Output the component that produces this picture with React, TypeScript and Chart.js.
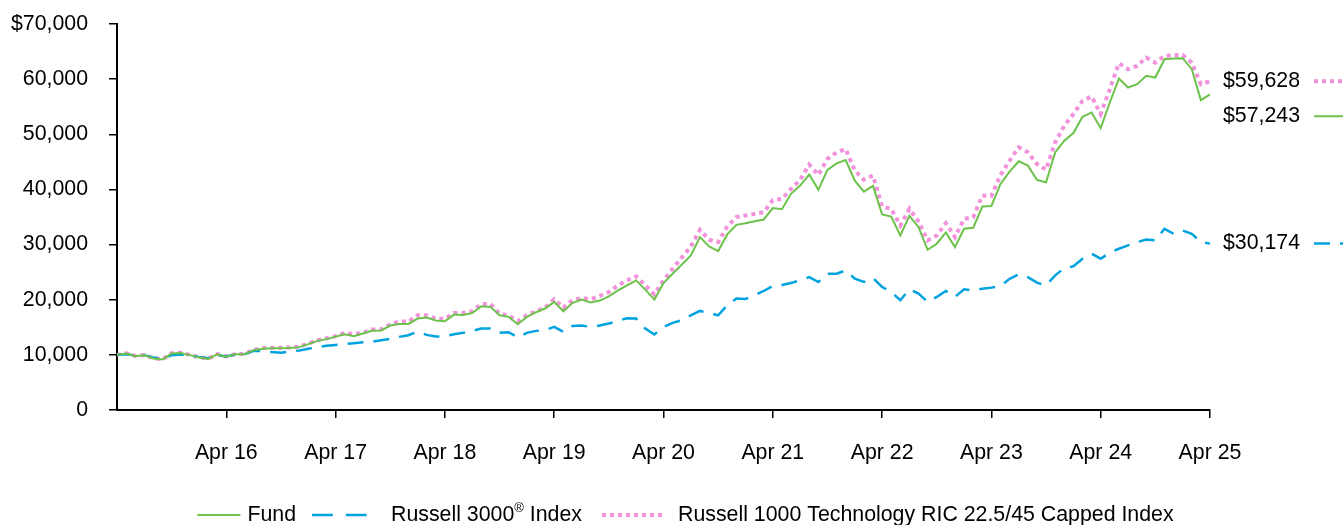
import React, { useEffect, useRef } from "react";
import { Chart, registerables } from "chart.js";

Chart.register(...registerables);

const FONT = '"Liberation Sans", Arial, sans-serif';
const FS = 21.33;

const SERIES_NAMES = ["Fund", "Russell 3000® Index", "Russell 1000 Technology RIC 22.5/45 Capped Index"];
const END_LABELS = ["$57,243", "$30,174", "$59,628"];
const TICK_LABELS = ["Apr 16", "Apr 17", "Apr 18", "Apr 19", "Apr 20", "Apr 21", "Apr 22", "Apr 23", "Apr 24", "Apr 25"];
const MONTHS = ["Jan", "Feb", "Mar", "Apr", "May", "Jun", "Jul", "Aug", "Sep", "Oct", "Nov", "Dec"];
const START_YEAR = 2015;
const START_MONTH = 3; // April
const N_POINTS = 121;

const FUND = [
  10000, 10250, 9770, 9950, 9350, 9170, 10250, 10350, 9950, 9550, 9250, 10100,
  9650, 10100, 10100, 10850, 11100, 11200, 11200, 11250, 11400, 11940, 12540, 12850,
  13300, 13750, 13400, 13870, 14350, 14400, 15320, 15600, 15600, 16580, 16770, 16230,
  16100, 17300, 17250, 17600, 18810, 18700, 17180, 16890, 15560, 16890, 17730, 18400,
  19600, 17900, 19400, 20020, 19480, 19840, 20620, 21700, 22600, 23500, 21830, 20020,
  23030, 24720, 26350, 28040, 31350, 29660, 28820, 31840, 33580, 33880, 34240, 34550,
  36630, 36420, 39200, 40700, 42690, 39920, 43540, 44730, 45340, 41600, 39610, 40640,
  35450, 35090, 31650, 35210, 33160, 29060, 30150, 32200, 29540, 32860, 33040, 36900,
  37000, 41000, 43230, 45100, 44320, 41730, 41300, 46720, 48840, 50230, 53180, 53960,
  51130, 55770, 60110, 58480, 59090, 60600, 60290, 63620, 63740, 63800, 61810, 56200,
  57243,
];

const RUSSELL_3000 = [
  10000, 10100, 9900, 9950, 9500, 9300, 9950, 10050, 9950, 9600, 9400, 9900,
  9750, 10050, 10100, 10750, 10650, 10500, 10400, 10600, 10800, 11100, 11400, 11650,
  11800, 11940, 12120, 12300, 12360, 12660, 12900, 13260, 13560, 14230, 13620, 13320,
  13380, 13740, 13990, 14350, 14770, 14770, 13990, 14110, 13150, 13990, 14350, 14470,
  15070, 14170, 15250, 15310, 15070, 15310, 15680, 16160, 16640, 16580, 14770, 13690,
  15070, 15800, 16280, 17180, 17970, 17610, 17180, 18990, 20200, 20140, 20800, 21580,
  22500, 22670, 23030, 23510, 24110, 23210, 24720, 24720, 25320, 23820, 23210, 23940,
  22310, 21400, 19900, 21890, 21100, 19600, 20500, 21580, 20500, 21890, 21700, 22000,
  22190, 22500, 23800, 24600, 24100, 23100, 22600, 24420, 25740, 26070, 27440, 28340,
  27440, 28520, 29240, 29850, 30450, 30930, 30750, 32860, 31960, 32560, 31960, 30450,
  30174,
];

const TECH_INDEX = [
  10000, 10300, 9800, 9980, 9380, 9200, 10300, 10400, 9980, 9600, 9300, 10150,
  9700, 10150, 10150, 10900, 11200, 11300, 11300, 11350, 11500, 12050, 12650, 13000,
  13400, 13990, 13750, 13990, 14590, 14650, 15500, 16040, 16040, 17180, 17180, 16580,
  16520, 17600, 17600, 17910, 19230, 19230, 17490, 17130, 16100, 17180, 17910, 18570,
  20100, 18570, 19900, 20320, 20080, 20680, 21400, 22610, 23510, 24240, 22610, 20980,
  23510, 25630, 27620, 29660, 32680, 30870, 30450, 33280, 34970, 35270, 35570, 35870,
  38050, 38290, 40100, 41730, 44500, 42630, 45520, 46720, 47330, 43410, 41780, 42510,
  36900, 36480, 33460, 36480, 34190, 30750, 31650, 33880, 31350, 34670, 34970, 38890,
  38830, 42630, 45220, 47630, 46720, 44620, 43590, 48530, 51550, 53670, 56070, 56850,
  53670, 58190, 62890, 61810, 62400, 63910, 63000, 64210, 64330, 64390, 63000, 59090,
  59628,
];

const COLORS = ["#6cc24a", "#00a3e0", "#f291dc"];

const CATEGORIES: string[] = [];
for (let i = 0; i < N_POINTS; i++) {
  const m = (START_MONTH + i) % 12;
  const y = START_YEAR + Math.floor((START_MONTH + i) / 12);
  CATEGORIES.push(MONTHS[m] + " " + String(y).slice(2));
}

const endLabelPlugin = {
  id: "endLabels",
  afterDatasetsDraw(chart: any) {
    const { ctx, chartArea } = chart;
    const items = chart.data.datasets.map((ds: any, i: number) => {
      const meta = chart.getDatasetMeta(i);
      const pt = meta.data[meta.data.length - 1];
      return { y: pt.y, ds, label: END_LABELS[i] };
    });
    items.sort((a: any, b: any) => a.y - b.y);
    for (let k = 1; k < items.length; k++) {
      if (items[k].y - items[k - 1].y < 35) items[k].y = items[k - 1].y + 35;
    }
    ctx.save();
    ctx.font = FS + "px " + FONT;
    ctx.fillStyle = "#000";
    ctx.textBaseline = "middle";
    ctx.textAlign = "left";
    items.forEach((it: any) => {
      ctx.fillText(it.label, chartArea.right + 13, it.y);
      ctx.beginPath();
      ctx.strokeStyle = it.ds.borderColor;
      ctx.lineWidth = it.ds.borderWidth;
      ctx.setLineDash(it.ds.borderDash || []);
      ctx.moveTo(chartArea.right + 104, it.y);
      ctx.lineTo(chartArea.right + 140, it.y);
      ctx.stroke();
    });
    ctx.restore();
  },
};

// legend layout: sample length, gap sample->text, gap after text
const LEGEND_SAMPLE = [43, 57, 60];
const LEGEND_TEXT_GAP = [7, 22, 16];
const LEGEND_ITEM_GAP = [16, 20, 0];

const legendPlugin = {
  id: "customLegend",
  afterDraw(chart: any) {
    const { ctx, chartArea } = chart;
    const y = 515;
    ctx.save();
    const mainFont = FS + "px " + FONT;
    const supFont = "13px " + FONT;
    ctx.font = mainFont;
    const textWidth = (i: number) => {
      if (i === 1) {
        ctx.font = mainFont;
        const a = ctx.measureText("Russell 3000").width;
        const c = ctx.measureText(" Index").width;
        ctx.font = supFont;
        const b = ctx.measureText("®").width;
        ctx.font = mainFont;
        return a + b + c;
      }
      ctx.font = mainFont;
      return ctx.measureText(SERIES_NAMES[i]).width;
    };
    const widths = SERIES_NAMES.map((_, i) => textWidth(i));
    let total = 0;
    widths.forEach((w, i) => (total += LEGEND_SAMPLE[i] + LEGEND_TEXT_GAP[i] + w + LEGEND_ITEM_GAP[i]));
    let x = (chartArea.left + chartArea.right) / 2 + 22 - total / 2;
    chart.data.datasets.forEach((ds: any, i: number) => {
      ctx.beginPath();
      ctx.strokeStyle = ds.borderColor;
      ctx.lineWidth = ds.borderWidth;
      ctx.setLineDash(ds.borderDash ? ds.borderDash.map((d: number) => (i === 1 ? d * 1.3 : d)) : []);
      ctx.moveTo(x, y);
      ctx.lineTo(x + LEGEND_SAMPLE[i], y);
      ctx.stroke();
      ctx.setLineDash([]);
      x += LEGEND_SAMPLE[i] + LEGEND_TEXT_GAP[i];
      ctx.fillStyle = "#000";
      ctx.textBaseline = "middle";
      ctx.textAlign = "left";
      ctx.font = mainFont;
      if (i === 1) {
        ctx.fillText("Russell 3000", x, y);
        let xx = x + ctx.measureText("Russell 3000").width;
        ctx.font = supFont;
        ctx.fillText("®", xx, y - 7);
        xx += ctx.measureText("®").width;
        ctx.font = mainFont;
        ctx.fillText(" Index", xx, y);
      } else {
        ctx.fillText(SERIES_NAMES[i], x, y);
      }
      x += widths[i] + LEGEND_ITEM_GAP[i];
    });
    ctx.restore();
  },
};

export default function App() {
  const ref = useRef<HTMLCanvasElement>(null);
  useEffect(() => {
    document.body.style.margin = "0";
    const canvas = ref.current!;
    const chart = new Chart(canvas, {
      type: "line",
      data: {
        labels: CATEGORIES,
        datasets: [
          {
            label: SERIES_NAMES[0],
            data: FUND,
            borderColor: COLORS[0],
            borderWidth: 2,
            pointRadius: 0,
            tension: 0,
            fill: false,
          },
          {
            label: SERIES_NAMES[1],
            data: RUSSELL_3000,
            borderColor: COLORS[1],
            borderWidth: 2.5,
            borderDash: [16, 10],
            pointRadius: 0,
            tension: 0,
            fill: false,
          },
          {
            label: SERIES_NAMES[2],
            data: TECH_INDEX,
            borderColor: COLORS[2],
            borderWidth: 4,
            borderDash: [4, 4],
            pointRadius: 0,
            tension: 0,
            fill: false,
          },
        ],
      },
      options: {
        animation: false,
        responsive: false,
        devicePixelRatio: 1,
        layout: { padding: { left: 0, right: 133, top: 24, bottom: 60 } },
        plugins: {
          legend: { display: false },
          tooltip: { enabled: false },
        },
        scales: {
          x: {
            type: "category",
            offset: false,
            grid: { drawOnChartArea: false, drawTicks: true, tickLength: 8, color: "#000", lineWidth: 1.5 },
            border: { color: "#000", width: 2 },
            ticks: {
              autoSkip: false,
              maxRotation: 0,
              minRotation: 0,
              padding: 22,
              color: "#000",
              font: { family: FONT, size: FS },
              callback: (_v: any, index: number) =>
                index > 0 && index % 12 === 0 ? TICK_LABELS[index / 12 - 1] : null,
            },
            afterFit: (scale: any) => {
              scale.height = 55;
            },
          },
          y: {
            min: 0,
            max: 70000,
            grid: { drawOnChartArea: false, drawTicks: true, tickLength: 8, color: "#000", lineWidth: 1.5 },
            border: { color: "#000", width: 2 },
            ticks: {
              stepSize: 10000,
              padding: 21,
              color: "#000",
              font: { family: FONT, size: FS },
              callback: (v: any) => {
                const s = Number(v).toLocaleString("en-US");
                return v === 70000 ? "$" + s : s;
              },
            },
            afterFit: (scale: any) => {
              scale.width = 117;
              scale.paddingTop = 0;
              scale.paddingBottom = 0;
            },
          },
        },
      },
      plugins: [endLabelPlugin, legendPlugin],
    });
    return () => chart.destroy();
  }, []);
  return <canvas ref={ref} width={1343} height={525} style={{ display: "block" }} />;
}
